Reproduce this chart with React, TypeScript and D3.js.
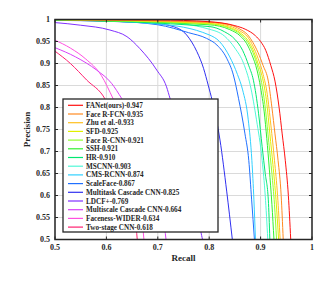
import React from 'react';
import * as d3 from 'd3';

// precision / recall curves: [recall, precision]
const fanet = [[0.5, 1], [0.7, 0.999], [0.8, 0.995], [0.85, 0.986], [0.87, 0.978], [0.89, 0.963], [0.9, 0.95], [0.91, 0.93], [0.92, 0.895], [0.928, 0.86], [0.936, 0.8], [0.942, 0.74], [0.948, 0.68], [0.954, 0.6], [0.9586, 0.5]];
const faceRfcn = [[0.5, 1], [0.8, 0.994], [0.84, 0.988], [0.86, 0.978], [0.875, 0.965], [0.885, 0.948], [0.895, 0.925], [0.905, 0.895], [0.915, 0.86], [0.922, 0.8], [0.928, 0.74], [0.934, 0.68], [0.94, 0.6], [0.944, 0.5]];
const zhu = [[0.5, 1], [0.8, 0.993], [0.84, 0.985], [0.86, 0.974], [0.875, 0.96], [0.885, 0.94], [0.895, 0.912], [0.905, 0.875], [0.913, 0.83], [0.92, 0.76], [0.927, 0.68], [0.933, 0.6], [0.938, 0.5]];
const sfd = [[0.5, 1], [0.8, 0.991], [0.84, 0.982], [0.86, 0.97], [0.875, 0.953], [0.885, 0.932], [0.895, 0.9], [0.905, 0.86], [0.912, 0.81], [0.918, 0.74], [0.924, 0.67], [0.93, 0.59], [0.935, 0.5]];
const faceRcnn = [[0.5, 0.999], [0.8, 0.99], [0.84, 0.98], [0.86, 0.967], [0.875, 0.948], [0.885, 0.925], [0.895, 0.89], [0.903, 0.85], [0.91, 0.79], [0.916, 0.72], [0.922, 0.65], [0.927, 0.58], [0.931, 0.5]];
const ssh = [[0.5, 0.999], [0.8, 0.988], [0.84, 0.977], [0.86, 0.963], [0.873, 0.945], [0.883, 0.92], [0.893, 0.885], [0.9, 0.845], [0.907, 0.79], [0.912, 0.73], [0.917, 0.66], [0.922, 0.58], [0.926, 0.5]];
const hr = [[0.5, 0.999], [0.8, 0.984], [0.83, 0.972], [0.85, 0.955], [0.865, 0.93], [0.877, 0.895], [0.886, 0.862], [0.896, 0.787], [0.903, 0.711], [0.909, 0.65], [0.915, 0.59], [0.918, 0.5]];
const mscnn = [[0.5, 1], [0.7, 0.995], [0.8, 0.978], [0.83, 0.962], [0.85, 0.935], [0.867, 0.9], [0.88, 0.85], [0.892, 0.772], [0.903, 0.68], [0.909, 0.6], [0.914, 0.5]];
const cmsRcnn = [[0.5, 1], [0.7, 0.99], [0.8, 0.965], [0.82, 0.95], [0.84, 0.915], [0.855, 0.875], [0.865, 0.84], [0.876, 0.772], [0.883, 0.68], [0.887, 0.59], [0.89, 0.5]];
const scaleFace = [[0.5, 1], [0.6, 0.997], [0.7, 0.988], [0.76, 0.97], [0.795, 0.957], [0.815, 0.942], [0.834, 0.912], [0.847, 0.874], [0.857, 0.821], [0.8696, 0.74], [0.877, 0.68], [0.8826, 0.59], [0.888, 0.5]];
const multitask = [[0.5, 0.998], [0.6, 0.996], [0.7, 0.99], [0.73, 0.984], [0.756, 0.965], [0.776, 0.927], [0.789, 0.889], [0.798, 0.851], [0.806, 0.815], [0.821, 0.726], [0.834, 0.61], [0.845, 0.5]];
const ldcf = [[0.5, 0.993], [0.55, 0.987], [0.607, 0.976], [0.64, 0.961], [0.665, 0.934], [0.698, 0.885], [0.717, 0.847], [0.724, 0.82], [0.74, 0.77], [0.76, 0.68], [0.775, 0.6], [0.7835, 0.52], [0.787, 0.5]];
const multiscale = [[0.5, 0.936], [0.54, 0.915], [0.581, 0.885], [0.61, 0.855], [0.63, 0.82], [0.66, 0.76], [0.69, 0.67], [0.705, 0.6], [0.716, 0.5]];
const faceness = [[0.5, 0.953], [0.53, 0.935], [0.56, 0.91], [0.59, 0.873], [0.613, 0.82], [0.64, 0.75], [0.66, 0.65], [0.673, 0.5]];
const twoStage = [[0.5, 0.928], [0.53, 0.9], [0.5616, 0.8625], [0.597, 0.82], [0.62, 0.76], [0.64, 0.67], [0.652, 0.6], [0.66, 0.5]];

const names = ['FANet(ours)-0.947', 'Face R-FCN-0.935', 'Zhu et al.-0.933', 'SFD-0.925', 'Face R-CNN-0.921', 'SSH-0.921', 'HR-0.910', 'MSCNN-0.903', 'CMS-RCNN-0.874', 'ScaleFace-0.867', 'Multitask Cascade CNN-0.825', 'LDCF+-0.769', 'Multiscale Cascade CNN-0.664', 'Faceness-WIDER-0.634', 'Two-stage CNN-0.618'];
const curves = [fanet, faceRfcn, zhu, sfd, faceRcnn, ssh, hr, mscnn, cmsRcnn, scaleFace, multitask, ldcf, multiscale, faceness, twoStage];
const colors = ['#ff1010', '#ff8a20', '#ffc020', '#e0f000', '#90ff30', '#30f030', '#00e870', '#50f8d8', '#30d0ff', '#2070ff', '#3030f0', '#8030ff', '#d840f8', '#ff50e0', '#ff2070'];

const xTicks = [0.5, 0.6, 0.7, 0.8, 0.9, 1];
const yTicks = [0.5, 0.55, 0.6, 0.65, 0.7, 0.75, 0.8, 0.85, 0.9, 0.95, 1];

const W = 333, H = 286;
const left = 55, top = 19.5, right = 312, bottom = 239.5;
const ink = '#262626';
const font = '"Liberation Serif", "Times New Roman", serif';

export default function App() {
  const x = d3.scaleLinear().domain([0.5, 1]).range([left, right]);
  const y = d3.scaleLinear().domain([0.5, 1]).range([bottom, top]);
  const line = d3.line<number[]>().x(d => x(d[0])).y(d => y(d[1])).curve(d3.curveMonotoneX);
  const fmt = (v: number) => (v === 1 ? '1' : String(v));

  const lgX = 63, lgY = 99, lgW = 155, lgH = 133, rowH = 8.7;

  return (
    <svg width={W} height={H} style={{ position: 'absolute', left: 0, top: 0, background: '#fff' }}>
      <defs>
        <clipPath id="plot"><rect x={left} y={top} width={right - left} height={bottom - top} /></clipPath>
      </defs>
      {xTicks.map(t => <line key={'gx' + t} x1={x(t)} x2={x(t)} y1={top} y2={bottom} stroke="#dadada" strokeWidth={1} />)}
      {yTicks.map(t => <line key={'gy' + t} x1={left} x2={right} y1={y(t)} y2={y(t)} stroke="#dadada" strokeWidth={1} />)}
      <g clipPath="url(#plot)">
        {curves.map((c, i) => <path key={i} d={line(c) || ''} fill="none" stroke={colors[i]} strokeWidth={1} />).reverse()}
      </g>
      {xTicks.map(t => (
        <g key={'tx' + t}>
          <line x1={x(t)} x2={x(t)} y1={bottom} y2={bottom - 3} stroke={ink} />
          <line x1={x(t)} x2={x(t)} y1={top} y2={top + 3} stroke={ink} />
          <text x={x(t)} y={bottom + 10} textAnchor="middle" fontFamily={font} fontWeight="bold" fontSize={8} fill={ink}>{fmt(t)}</text>
        </g>
      ))}
      {yTicks.map(t => (
        <g key={'ty' + t}>
          <line x1={left} x2={left + 3} y1={y(t)} y2={y(t)} stroke={ink} />
          <line x1={right} x2={right - 3} y1={y(t)} y2={y(t)} stroke={ink} />
          <text x={left - 5} y={y(t) + 2.8} textAnchor="end" fontFamily={font} fontWeight="bold" fontSize={8} fill={ink}>{fmt(t)}</text>
        </g>
      ))}
      <rect x={left} y={top} width={right - left} height={bottom - top} fill="none" stroke={ink} strokeWidth={1.5} />
      <text x={(left + right) / 2} y={261} textAnchor="middle" fontFamily={font} fontWeight="bold" fontSize={9} fill={ink}>Recall</text>
      <text transform={`translate(30,${(top + bottom) / 2}) rotate(-90)`} textAnchor="middle" fontFamily={font} fontWeight="bold" fontSize={9} fill={ink}>Precision</text>
      <rect x={lgX} y={lgY} width={lgW} height={lgH} fill="#fff" stroke={ink} strokeWidth={1.3} />
      {names.map((n, i) => {
        const ry = lgY + 6.3 + i * rowH;
        return (
          <g key={n}>
            <line x1={lgX + 5} x2={lgX + 20} y1={ry} y2={ry} stroke={colors[i]} strokeWidth={1.2} />
            <text x={lgX + 23} y={ry + 2.5} fontFamily={font} fontWeight="bold" fontSize={7.2} fill={ink}>{n}</text>
          </g>
        );
      })}
    </svg>
  );
}
